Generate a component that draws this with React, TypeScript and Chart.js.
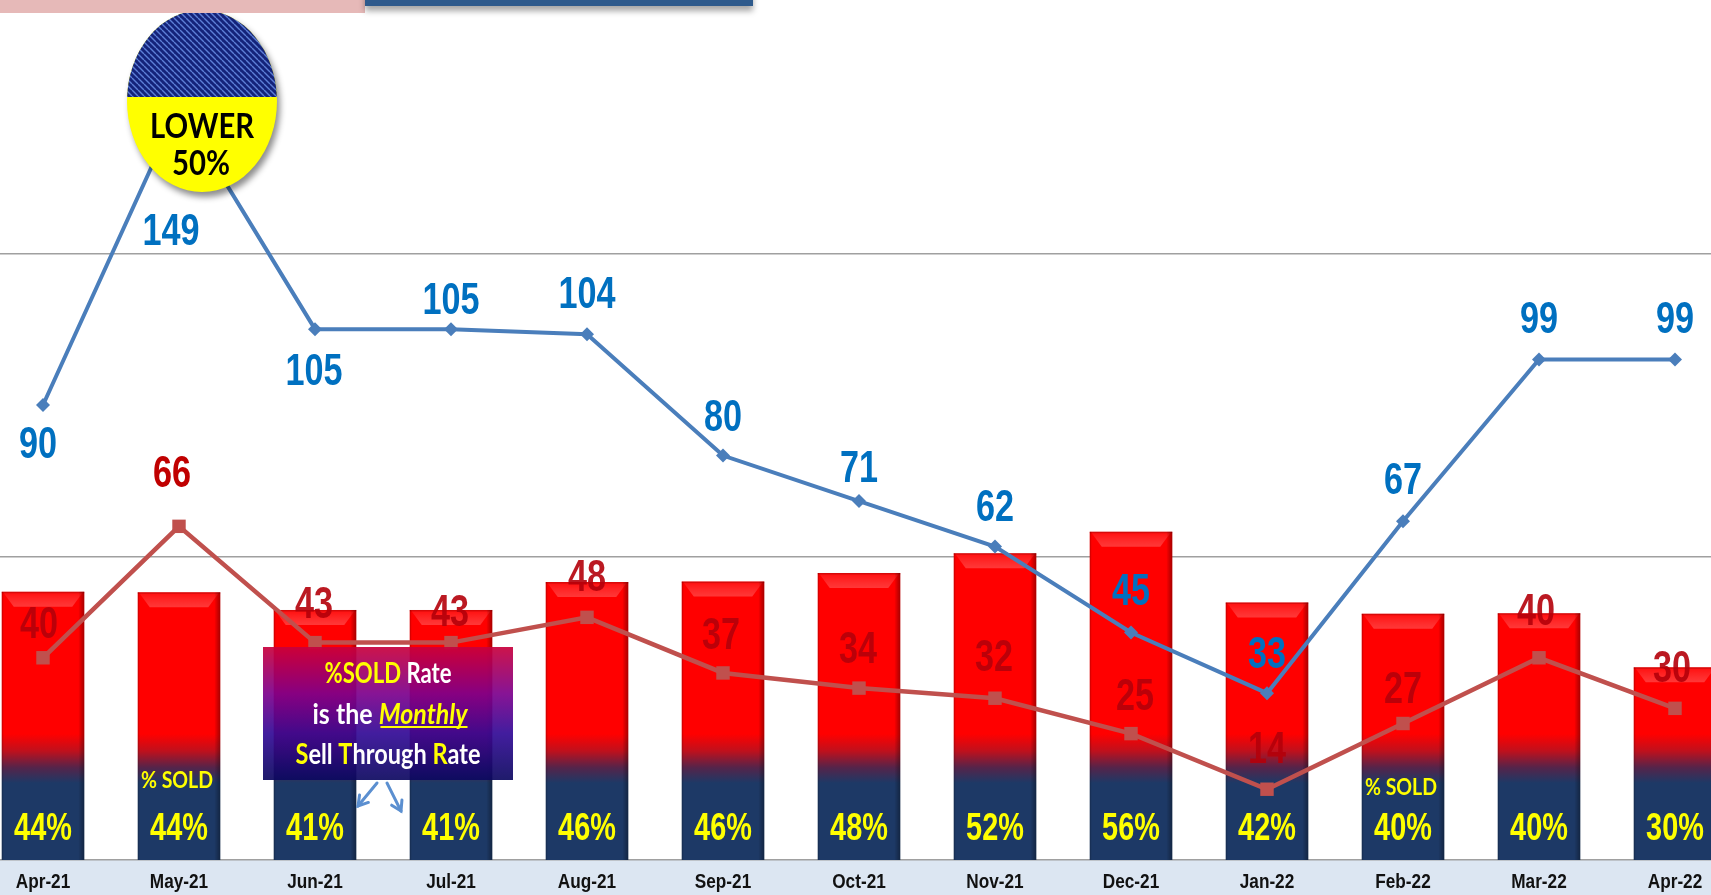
import React, { useEffect, useRef } from 'react';
import { Chart, registerables } from 'chart.js';

Chart.register(...registerables);

// ---------------- data ----------------
const months = ['Apr-21', 'May-21', 'Jun-21', 'Jul-21', 'Aug-21', 'Sep-21', 'Oct-21', 'Nov-21', 'Dec-21', 'Jan-22', 'Feb-22', 'Mar-22', 'Apr-22'];
const inventory = [90, 149, 105, 105, 104, 80, 71, 62, 45, 33, 67, 99, 99];
const sold = [40, 66, 43, 43, 48, 37, 34, 32, 25, 14, 27, 40, 30];
const soldPct = [44.4, 44.3, 41.0, 41.0, 46.2, 46.3, 47.9, 51.6, 55.6, 42.4, 40.3, 40.4, 30.3];
const soldPctLabels = ['44%', '44%', '41%', '41%', '46%', '46%', '48%', '52%', '56%', '42%', '40%', '40%', '30%'];
const yMax = 180;
const yStep = 60;
const y2Min = -5.65;
const y2Max = 164.13;

// label placement (offsets from the point, px)
const invLabelDx = [-5, -8, -1, 0, 0, 0, 0, 0, 0, 0, 0, 0, 0];
const invLabelDy = [37, 122, 40, -31, -42, -41, -35, -42, -44, -41, -43, -43, -43];
const soldLabelDx = [-4, -7, -1, -1, 0, -2, -1, -1, 4, 0, 0, -3, -3];
const soldLabelDy = [-36, -55, -41, -33, -42, -40, -41, -43, -40, -42, -37, -49, -42];
const soldTagIdx = [1, 10];
const soldTagBaseline = [788, 795];

// ---------------- layout ----------------
const W = 1768;
const H = 945;
const OX = 25;
const OY = 50;
const NUM_FONT = '"Liberation Sans", Arial, sans-serif';
const TEXT_FONT = 'Lato, "Open Sans", sans-serif';

type Seg = { t: string; c: string; italic?: boolean; u?: boolean };

function drawNum(ctx: CanvasRenderingContext2D, s: string, cx: number, baseline: number, size: number, color: string, sx: number) {
  ctx.save();
  ctx.font = `bold ${size}px ${NUM_FONT}`;
  ctx.fillStyle = color;
  ctx.textAlign = 'center';
  ctx.textBaseline = 'alphabetic';
  ctx.translate(cx, baseline);
  ctx.scale(sx, 1);
  ctx.fillText(s, 0, 0);
  ctx.restore();
}

function drawRich(ctx: CanvasRenderingContext2D, segs: Seg[], cx: number, baseline: number, size: number, targetW: number, weight: string) {
  ctx.save();
  const fontFor = (s: Seg) => `${s.italic ? 'italic ' : ''}${weight} ${size}px ${TEXT_FONT}`;
  let total = 0;
  const ws = segs.map((s) => {
    ctx.font = fontFor(s);
    const w = ctx.measureText(s.t).width;
    total += w;
    return w;
  });
  const sx = targetW / total;
  ctx.translate(cx - targetW / 2, baseline);
  ctx.scale(sx, 1);
  ctx.textAlign = 'left';
  ctx.textBaseline = 'alphabetic';
  let x = 0;
  segs.forEach((s, i) => {
    ctx.font = fontFor(s);
    ctx.fillStyle = s.c;
    ctx.fillText(s.t, x, 0);
    if (s.u) ctx.fillRect(x + 2, 2, ws[i] - 2, 2);
    x += ws[i];
  });
  ctx.restore();
}

function hatchPattern(ctx: CanvasRenderingContext2D) {
  const c = document.createElement('canvas');
  c.width = 6;
  c.height = 6;
  const p = c.getContext('2d')!;
  p.fillStyle = '#14237a';
  p.fillRect(0, 0, 6, 6);
  p.strokeStyle = '#5d7fd6';
  p.lineWidth = 1.4;
  for (let k = -6; k <= 12; k += 6) {
    p.beginPath();
    p.moveTo(k, 0);
    p.lineTo(k + 6, 6);
    p.stroke();
  }
  return ctx.createPattern(c, 'repeat')!;
}

const decoPlugin = {
  id: 'deco',
  beforeDraw(chart: any) {
    const { ctx } = chart;
    const xs = chart.scales.x;
    ctx.save();
    ctx.fillStyle = '#dce6f2';
    ctx.fillRect(0, xs.top, chart.width, chart.height - xs.top);
    ctx.restore();
  },
  afterDatasetDraw(chart: any, args: any) {
    if (args.index !== 0) return;
    const { ctx } = chart;
    const meta = chart.getDatasetMeta(0);
    ctx.save();
    meta.data.forEach((el: any) => {
      const { x, y, width, base } = el.getProps(['x', 'y', 'width', 'base'], true);
      const l = x - width / 2;
      const r = x + width / 2;
      const t = y;
      // top bevel
      const g = ctx.createLinearGradient(0, t, 0, t + 15);
      g.addColorStop(0, 'rgba(255,255,255,0.05)');
      g.addColorStop(1, 'rgba(255,200,200,0.28)');
      ctx.fillStyle = g;
      ctx.beginPath();
      ctx.moveTo(l + 1, t);
      ctx.lineTo(r - 1, t);
      ctx.lineTo(r - 12, t + 15);
      ctx.lineTo(l + 12, t + 15);
      ctx.closePath();
      ctx.fill();
      ctx.fillStyle = 'rgba(140,0,0,0.35)';
      ctx.fillRect(l, t, width, 1.5);
      // right edge shade
      const gr = ctx.createLinearGradient(r - 6, 0, r, 0);
      gr.addColorStop(0, 'rgba(0,0,0,0)');
      gr.addColorStop(1, 'rgba(0,0,0,0.35)');
      ctx.fillStyle = gr;
      ctx.fillRect(r - 6, t, 6, base - t);
      ctx.fillStyle = 'rgba(0,0,0,0.15)';
      ctx.fillRect(l, t, 1.5, base - t);
    });
    ctx.restore();
  },
  afterDatasetsDraw(chart: any) {
    const { ctx } = chart;
    ctx.save();
    ctx.translate(OX, OY);

    // ---- "LOWER 50%" ellipse ----
    const cx = 202, cy = 101, rx = 75, ry = 91, split = 97;
    ctx.save();
    ctx.shadowColor = 'rgba(0,0,0,0.45)';
    ctx.shadowOffsetX = 3;
    ctx.shadowOffsetY = 5;
    ctx.shadowBlur = 6;
    ctx.beginPath();
    ctx.ellipse(cx, cy, rx, ry, 0, 0, Math.PI * 2);
    ctx.fillStyle = '#ffff00';
    ctx.fill();
    ctx.restore();
    ctx.save();
    ctx.beginPath();
    ctx.ellipse(cx, cy, rx, ry, 0, 0, Math.PI * 2);
    ctx.clip();
    ctx.fillStyle = hatchPattern(ctx);
    ctx.fillRect(cx - rx, cy - ry, rx * 2, split - (cy - ry));
    ctx.restore();
    drawRich(ctx, [{ t: 'LOWER', c: '#000' }], 202, 138, 35, 104, 'bold');
    drawRich(ctx, [{ t: '50%', c: '#000' }], 201, 175, 35, 58, 'bold');

    // ---- %SOLD Rate box ----
    const bx = 263, by = 647, bw = 250, bh = 133;
    const g = ctx.createLinearGradient(0, by, 0, by + bh);
    g.addColorStop(0, 'rgba(200,0,60,0.92)');
    g.addColorStop(0.35, 'rgba(125,0,140,0.92)');
    g.addColorStop(0.65, 'rgba(50,10,150,0.92)');
    g.addColorStop(1, 'rgba(12,8,95,0.92)');
    ctx.fillStyle = g;
    ctx.fillRect(bx, by, bw, bh);
    const Y = '#ffff00', Wt = '#ffffff';
    drawRich(ctx, [{ t: '%SOLD', c: Y }, { t: ' Rate', c: Wt }], 388, 683, 28, 127, 'bold');
    drawRich(ctx, [{ t: 'is the ', c: Wt }, { t: 'Monthly', c: Y, italic: true, u: true }], 390, 724, 28, 155, 'bold');
    drawRich(ctx, [
      { t: 'S', c: Y }, { t: 'ell ', c: Wt }, { t: 'T', c: Y }, { t: 'hrough ', c: Wt }, { t: 'R', c: Y }, { t: 'ate', c: Wt },
    ], 388, 764, 28, 185, 'bold');

    // arrows
    const arrow = (x1: number, y1: number, x2: number, y2: number) => {
      ctx.strokeStyle = '#5b8fd0';
      ctx.lineWidth = 3;
      ctx.lineCap = 'round';
      ctx.beginPath();
      ctx.moveTo(x1, y1);
      ctx.lineTo(x2, y2);
      ctx.stroke();
      const a = Math.atan2(y2 - y1, x2 - x1);
      const hl = 11;
      ctx.beginPath();
      ctx.moveTo(x2 - hl * Math.cos(a - 0.55), y2 - hl * Math.sin(a - 0.55));
      ctx.lineTo(x2, y2);
      ctx.lineTo(x2 - hl * Math.cos(a + 0.55), y2 - hl * Math.sin(a + 0.55));
      ctx.stroke();
    };
    arrow(377, 783, 358, 806);
    arrow(387, 783, 401, 811);

    ctx.restore();
  },
  afterDraw(chart: any) {
    const { ctx } = chart;
    const xs = chart.scales.x;
    // x labels
    months.forEach((m, i) => {
      drawNum(ctx, m, xs.getPixelForValue(i), 887.5 + OY, 20, '#111111', 0.86);
    });
    // line labels
    const mInv = chart.getDatasetMeta(1);
    const mSold = chart.getDatasetMeta(2);
    const size = 45;
    const capHalf = size * 0.716 / 2;
    inventory.forEach((v, i) => {
      const p = mInv.data[i];
      drawNum(ctx, String(v), p.x + invLabelDx[i], p.y + invLabelDy[i] + capHalf, size, '#0070c0', 0.76);
    });
    sold.forEach((v, i) => {
      const p = mSold.data[i];
      drawNum(ctx, String(v), p.x + soldLabelDx[i], p.y + soldLabelDy[i] + capHalf, size, i === 1 ? '#c00000' : 'rgba(180,0,10,0.9)', 0.76);
    });
    // percent labels
    soldPctLabels.forEach((s, i) => {
      drawNum(ctx, s, xs.getPixelForValue(i), 840 + OY, 38, '#ffff00', 0.76);
    });
    soldTagIdx.forEach((idx, k) => {
      drawRich(ctx, [{ t: '% SOLD', c: '#ffff00' }], xs.getPixelForValue(idx) - 2, soldTagBaseline[k] + OY, 23, 72, 'bold');
    });

    // top decorations (cropped header)
    ctx.save();
    ctx.translate(OX, OY);
    ctx.fillStyle = '#e6b9b8';
    ctx.fillRect(0, -OY, 365, OY + 13);
    ctx.save();
    ctx.shadowColor = 'rgba(0,0,0,0.35)';
    ctx.shadowOffsetY = 5;
    ctx.shadowBlur = 6;
    ctx.fillStyle = '#2e5a8c';
    ctx.fillRect(365, -OY, 388, OY + 6);
    ctx.restore();
    ctx.restore();
  },
};

export default function App() {
  const ref = useRef<HTMLCanvasElement | null>(null);

  useEffect(() => {
    if (!ref.current) return;
    const chart = new Chart(ref.current, {
      type: 'bar',
      data: {
        labels: months,
        datasets: [
          {
            type: 'bar',
            label: '% Sold',
            data: soldPct,
            yAxisID: 'y2',
            base: y2Min,
            order: 3,
            categoryPercentage: 0.607,
            barPercentage: 1,
            backgroundColor: (c: any) => {
              const { chart } = c;
              const { ctx, chartArea } = chart;
              if (!chartArea) return '#ff0000';
              const b = chartArea.bottom;
              const g = ctx.createLinearGradient(0, b, 0, b - 140);
              g.addColorStop(0, '#1d3966');
              g.addColorStop(0.55, '#1d3966');
              g.addColorStop(0.66, '#55244a');
              g.addColorStop(0.78, '#c0101c');
              g.addColorStop(0.9, '#ff0000');
              g.addColorStop(1, '#ff0000');
              return g;
            },
          } as any,
          {
            type: 'line',
            label: 'Inventory',
            data: inventory,
            yAxisID: 'y',
            order: 1,
            borderColor: '#4a7ebb',
            backgroundColor: '#4a7ebb',
            borderWidth: 4,
            pointStyle: 'rectRot',
            pointRadius: 7,
            pointBorderWidth: 0,
            pointBackgroundColor: '#4a7ebb',
            tension: 0,
          } as any,
          {
            type: 'line',
            label: 'Sold',
            data: sold,
            yAxisID: 'y',
            order: 2,
            borderColor: '#c0504d',
            backgroundColor: '#c0504d',
            borderWidth: 4.5,
            pointStyle: 'rect',
            pointRadius: 9.5,
            pointBorderWidth: 0,
            pointBackgroundColor: '#c0504d',
            tension: 0,
          } as any,
        ],
      },
      options: {
        responsive: false,
        animation: false,
        layout: { padding: 0, autoPadding: false },
        plugins: { legend: { display: false }, tooltip: { enabled: false } },
        scales: {
          x: {
            type: 'category',
            offset: true,
            grid: { display: false },
            border: { display: false },
            ticks: { display: false },
            afterFit: (s: any) => { s.height = 35; },
          },
          y: {
            type: 'linear',
            min: 0,
            max: yMax,
            ticks: { display: false, stepSize: yStep },
            grid: { color: '#a0a0a0', lineWidth: 1.6, drawTicks: false },
            border: { display: false },
            afterFit: (s: any) => { s.width = 0; },
          },
          y2: {
            type: 'linear',
            display: false,
            min: y2Min,
            max: y2Max,
          },
        },
      } as any,
      plugins: [decoPlugin],
    });
    return () => chart.destroy();
  }, []);

  return (
    <div style={{ position: 'fixed', left: 0, top: 0, width: 1711, height: 895, overflow: 'hidden', background: '#ffffff' }}>
      <canvas ref={ref} width={W} height={H} style={{ position: 'absolute', left: -OX, top: -OY, width: W, height: H }} />
    </div>
  );
}
